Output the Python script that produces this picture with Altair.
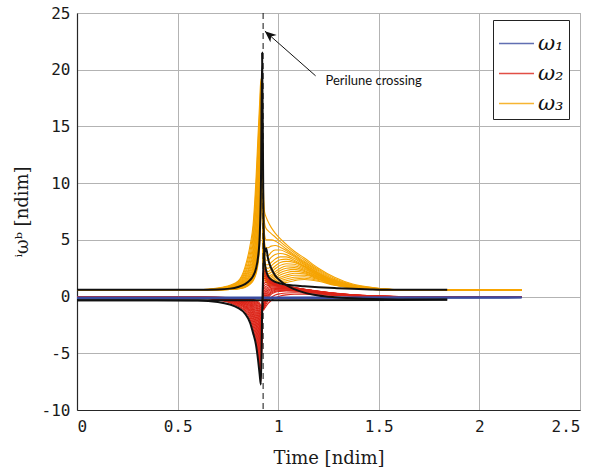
import altair as alt
import pandas as pd

# ---------------- data ----------------
T = [0.0, 0.4, 0.6, 0.7, 0.76, 0.8, 0.835, 0.86, 0.875, 0.89, 0.9, 0.908, 0.914, 0.92,
     0.926, 0.932, 0.94, 0.95, 0.965, 0.985, 1.01, 1.04, 1.08, 1.13, 1.2, 1.28, 1.37,
     1.47, 1.6, 1.84, 2.21]

# nominal (black) curves
B3 = [0.6, 0.6, 0.6, 0.62, 0.7, 0.85, 1.1, 1.45, 1.8, 2.5, 3.5, 5.3, 9.5, 21.5,
      8.5, 3.2, 2.3, 1.8, 1.5, 1.3, 1.15, 1.05, 0.97, 0.9, 0.82, 0.75, 0.68, 0.63, 0.6, 0.6, None]
B2 = [-0.33, -0.33, -0.35, -0.47, -0.7, -1.0, -1.5, -2.3, -3.2, -4.3, -5.6, -6.9, -7.75, -1.5,
      2.5, 3.9, 4.25, 3.3, 2.5, 1.85, 1.4, 1.0, 0.65, 0.35, 0.1, -0.05, -0.15, -0.22, -0.25, -0.25, None]
T_B1 = [0.0, 0.92, 1.84]
B1 = [-0.33, -0.33, -0.27]

# omega_1 (blue) curves
T_BLUE = [0.0, 0.92, 2.21]
BLUE = [
    [-0.06, -0.06, -0.05],
    [-0.1, -0.1, -0.08],
    [-0.14, -0.14, -0.11],
]

# omega_2 (red) curves
RED = [
    [-0.05, -0.06, -0.1, -0.3, -0.55, -0.85, -1.3, -2.0, -2.8, -4.0, -5.2, -6.5, -7.5, -2.5,
     2.5, 2.4, 2.1, 1.8, 1.5, 1.2, 1.0, 0.85, 0.7, 0.5, 0.3, 0.15, 0.05, 0.0, -0.03, -0.05, -0.05],
    [-0.05, -0.06, -0.1, -0.28, -0.5, -0.78, -1.18, -1.8, -2.55, -3.65, -4.8, -6.05, -7.05, -2.35,
     2.25, 2.2, 1.95, 1.7, 1.42, 1.18, 1.0, 0.88, 0.72, 0.55, 0.35, 0.18, 0.07, 0.01, -0.03, -0.05, -0.05],
    [-0.05, -0.06, -0.1, -0.25, -0.45, -0.7, -1.05, -1.6, -2.3, -3.3, -4.4, -5.6, -6.6, -2.2,
     2.0, 2.0, 1.8, 1.6, 1.35, 1.15, 1.0, 0.9, 0.75, 0.6, 0.4, 0.22, 0.1, 0.03, -0.02, -0.05, -0.05],
    [-0.05, -0.06, -0.1, -0.22, -0.41, -0.64, -0.96, -1.45, -2.08, -3.0, -4.0, -5.15, -6.15, -2.05,
     1.75, 1.8, 1.68, 1.5, 1.3, 1.12, 0.99, 0.9, 0.78, 0.62, 0.42, 0.25, 0.12, 0.04, -0.01, -0.05, -0.05],
    [-0.05, -0.06, -0.09, -0.2, -0.38, -0.58, -0.88, -1.3, -1.85, -2.7, -3.6, -4.7, -5.7, -1.9,
     1.5, 1.6, 1.55, 1.4, 1.25, 1.1, 0.98, 0.9, 0.8, 0.65, 0.45, 0.28, 0.14, 0.05, 0.0, -0.04, -0.05],
    [-0.05, -0.05, -0.08, -0.18, -0.34, -0.52, -0.8, -1.18, -1.68, -2.45, -3.25, -4.25, -5.25, -1.75,
     1.25, 1.4, 1.4, 1.3, 1.2, 1.08, 0.96, 0.89, 0.79, 0.65, 0.46, 0.29, 0.15, 0.05, 0.0, -0.04, -0.05],
    [-0.05, -0.05, -0.08, -0.17, -0.3, -0.47, -0.72, -1.05, -1.5, -2.2, -2.9, -3.8, -4.8, -1.6,
     1.0, 1.2, 1.25, 1.2, 1.15, 1.05, 0.95, 0.88, 0.78, 0.65, 0.48, 0.3, 0.16, 0.06, 0.0, -0.04, -0.05],
    [-0.05, -0.05, -0.07, -0.15, -0.27, -0.42, -0.65, -0.95, -1.35, -1.98, -2.6, -3.4, -4.35, -1.5,
     0.75, 0.98, 1.08, 1.1, 1.08, 1.02, 0.94, 0.86, 0.77, 0.64, 0.46, 0.29, 0.15, 0.06, 0.0, -0.04, -0.05],
    [-0.05, -0.05, -0.07, -0.14, -0.25, -0.38, -0.58, -0.85, -1.2, -1.75, -2.3, -3.0, -3.9, -1.4,
     0.5, 0.75, 0.9, 0.98, 1.0, 0.98, 0.92, 0.85, 0.76, 0.63, 0.45, 0.28, 0.15, 0.06, 0.0, -0.04, -0.05],
    [-0.05, -0.05, -0.06, -0.13, -0.22, -0.34, -0.52, -0.76, -1.08, -1.55, -2.05, -2.7, -3.5, -1.3,
     0.25, 0.52, 0.72, 0.85, 0.91, 0.92, 0.87, 0.82, 0.73, 0.6, 0.44, 0.27, 0.14, 0.05, 0.0, -0.04, -0.05],
    [-0.05, -0.05, -0.06, -0.12, -0.2, -0.3, -0.46, -0.68, -0.95, -1.35, -1.8, -2.4, -3.1, -1.2,
     0.0, 0.3, 0.55, 0.72, 0.82, 0.85, 0.82, 0.78, 0.7, 0.58, 0.42, 0.26, 0.14, 0.05, 0.0, -0.04, -0.05],
    [-0.05, -0.05, -0.06, -0.11, -0.18, -0.27, -0.41, -0.6, -0.83, -1.17, -1.58, -2.1, -2.75, -1.1,
     -0.2, 0.1, 0.38, 0.58, 0.72, 0.78, 0.77, 0.74, 0.67, 0.56, 0.4, 0.25, 0.13, 0.05, 0.0, -0.04, -0.05],
    [-0.05, -0.05, -0.06, -0.1, -0.16, -0.24, -0.36, -0.52, -0.72, -1.0, -1.35, -1.8, -2.4, -1.0,
     -0.4, -0.1, 0.2, 0.45, 0.62, 0.7, 0.72, 0.7, 0.64, 0.54, 0.38, 0.24, 0.12, 0.04, 0.0, -0.04, -0.05],
    [-0.05, -0.05, -0.05, -0.09, -0.14, -0.21, -0.31, -0.45, -0.62, -0.87, -1.17, -1.55, -2.05, -1.0,
     -0.6, -0.3, 0.03, 0.3, 0.51, 0.62, 0.66, 0.65, 0.6, 0.5, 0.36, 0.22, 0.11, 0.04, -0.01, -0.04, -0.05],
    [-0.05, -0.05, -0.05, -0.08, -0.12, -0.18, -0.27, -0.39, -0.53, -0.74, -1.0, -1.3, -1.75, -1.0,
     -0.8, -0.5, -0.15, 0.15, 0.4, 0.55, 0.6, 0.6, 0.56, 0.47, 0.34, 0.2, 0.1, 0.03, -0.01, -0.04, -0.05],
    [-0.05, -0.05, -0.05, -0.075, -0.11, -0.16, -0.23, -0.33, -0.45, -0.63, -0.85, -1.1, -1.5, -1.05,
     -0.95, -0.65, -0.3, 0.03, 0.3, 0.46, 0.53, 0.55, 0.52, 0.44, 0.32, 0.19, 0.09, 0.02, -0.01, -0.04, -0.05],
    [-0.05, -0.05, -0.05, -0.07, -0.1, -0.14, -0.2, -0.28, -0.38, -0.52, -0.7, -0.92, -1.25, -1.1,
     -1.1, -0.8, -0.45, -0.1, 0.2, 0.38, 0.46, 0.5, 0.48, 0.4, 0.3, 0.18, 0.08, 0.02, -0.01, -0.04, -0.05],
    [-0.05, -0.05, -0.05, -0.065, -0.09, -0.12, -0.17, -0.23, -0.31, -0.43, -0.57, -0.76, -1.05, -1.05,
     -1.15, -0.92, -0.65, -0.35, -0.08, 0.13, 0.25, 0.32, 0.34, 0.3, 0.22, 0.14, 0.06, 0.01, -0.02, -0.04, -0.05],
    [-0.05, -0.05, -0.05, -0.06, -0.08, -0.1, -0.14, -0.19, -0.25, -0.34, -0.45, -0.6, -0.85, -1.0,
     -1.2, -1.05, -0.85, -0.6, -0.35, -0.12, 0.05, 0.15, 0.2, 0.2, 0.15, 0.1, 0.05, 0.01, -0.02, -0.04, -0.05],
]

# omega_3 (orange) curves
ORANGE = [
    [0.55, 0.55, 0.6, 0.75, 1.0, 1.35, 2.6, 4.5, 6.3, 10.5, 14.3, 17.2, 19.2, 16.0,
     10.0, 7.5, 7.0, 6.6, 6.1, 5.6, 5.1, 4.6, 4.0, 3.4, 2.5, 1.7, 1.1, 0.8, 0.6, 0.55, 0.55],
    [0.55, 0.55, 0.59, 0.72, 0.95, 1.28, 2.35, 4.05, 5.75, 9.65, 13.4, 16.35, 18.5, 15.5,
     9.0, 6.5, 6.0, 5.8, 5.55, 5.25, 4.85, 4.4, 3.85, 3.25, 2.4, 1.6, 1.05, 0.78, 0.6, 0.55, 0.55],
    [0.55, 0.55, 0.58, 0.7, 0.9, 1.2, 2.1, 3.6, 5.2, 8.8, 12.5, 15.5, 17.8, 15.0,
     8.0, 5.5, 5.0, 5.0, 5.0, 4.9, 4.6, 4.2, 3.7, 3.1, 2.3, 1.5, 1.0, 0.75, 0.6, 0.55, 0.55],
    [0.55, 0.55, 0.575, 0.68, 0.86, 1.12, 1.92, 3.25, 4.7, 8.0, 11.5, 14.5, 16.9, 14.5,
     7.2, 4.8, 4.3, 4.3, 4.45, 4.5, 4.35, 4.05, 3.6, 3.0, 2.2, 1.45, 0.98, 0.74, 0.6, 0.55, 0.55],
    [0.55, 0.55, 0.57, 0.67, 0.82, 1.05, 1.75, 2.9, 4.2, 7.2, 10.5, 13.5, 16.0, 14.0,
     6.5, 4.2, 3.6, 3.6, 3.9, 4.1, 4.1, 3.9, 3.5, 2.9, 2.1, 1.4, 0.95, 0.72, 0.6, 0.55, 0.55],
    [0.55, 0.55, 0.565, 0.66, 0.8, 1.0, 1.62, 2.65, 3.8, 6.5, 9.55, 12.55, 15.1, 13.5,
     6.0, 3.8, 3.2, 3.2, 3.45, 3.7, 3.8, 3.7, 3.35, 2.8, 2.05, 1.35, 0.92, 0.71, 0.6, 0.55, 0.55],
    [0.55, 0.55, 0.56, 0.65, 0.77, 0.95, 1.5, 2.4, 3.4, 5.8, 8.6, 11.6, 14.2, 13.0,
     5.5, 3.4, 2.8, 2.8, 3.0, 3.3, 3.5, 3.5, 3.2, 2.7, 2.0, 1.3, 0.9, 0.7, 0.6, 0.55, 0.55],
    [0.55, 0.55, 0.56, 0.64, 0.75, 0.92, 1.4, 2.2, 3.1, 5.25, 7.8, 10.7, 13.35, 12.5,
     5.0, 3.1, 2.55, 2.5, 2.7, 3.0, 3.25, 3.3, 3.1, 2.65, 1.95, 1.28, 0.89, 0.69, 0.59, 0.55, 0.55],
    [0.55, 0.55, 0.56, 0.63, 0.73, 0.88, 1.3, 2.0, 2.8, 4.7, 7.0, 9.8, 12.5, 12.0,
     4.5, 2.8, 2.3, 2.2, 2.4, 2.7, 3.0, 3.1, 3.0, 2.6, 1.9, 1.25, 0.88, 0.68, 0.58, 0.55, 0.55],
    [0.55, 0.55, 0.555, 0.625, 0.72, 0.85, 1.22, 1.85, 2.55, 4.25, 6.35, 9.0, 11.75, 11.8,
     4.25, 2.6, 2.1, 2.0, 2.15, 2.45, 2.75, 2.9, 2.85, 2.5, 1.85, 1.22, 0.86, 0.67, 0.58, 0.55, 0.55],
    [0.55, 0.55, 0.55, 0.62, 0.7, 0.82, 1.15, 1.7, 2.3, 3.8, 5.7, 8.2, 11.0, 11.5,
     4.0, 2.4, 1.9, 1.8, 1.9, 2.2, 2.5, 2.7, 2.7, 2.4, 1.8, 1.2, 0.85, 0.66, 0.58, 0.55, 0.55],
    [0.55, 0.55, 0.55, 0.61, 0.68, 0.8, 1.1, 1.6, 2.15, 3.5, 5.25, 7.6, 10.4, 11.2,
     3.75, 2.25, 1.75, 1.65, 1.75, 2.0, 2.3, 2.5, 2.55, 2.3, 1.75, 1.18, 0.84, 0.66, 0.58, 0.55, 0.55],
    [0.55, 0.55, 0.55, 0.6, 0.67, 0.77, 1.05, 1.5, 2.0, 3.2, 4.8, 7.0, 9.8, 11.0,
     3.5, 2.1, 1.6, 1.5, 1.6, 1.8, 2.1, 2.3, 2.4, 2.2, 1.7, 1.15, 0.82, 0.65, 0.58, 0.55, 0.55],
    [0.55, 0.55, 0.55, 0.6, 0.66, 0.75, 1.0, 1.42, 1.88, 2.95, 4.4, 6.5, 9.3, 10.8,
     3.25, 2.0, 1.52, 1.4, 1.47, 1.65, 1.9, 2.1, 2.22, 2.1, 1.65, 1.12, 0.81, 0.65, 0.58, 0.55, 0.55],
    [0.55, 0.55, 0.55, 0.6, 0.65, 0.73, 0.95, 1.35, 1.75, 2.7, 4.0, 6.0, 8.8, 10.5,
     3.0, 1.9, 1.45, 1.3, 1.35, 1.5, 1.7, 1.9, 2.05, 2.0, 1.6, 1.1, 0.8, 0.64, 0.57, 0.55, 0.55],
    [0.55, 0.55, 0.55, 0.595, 0.64, 0.71, 0.91, 1.27, 1.65, 2.5, 3.7, 5.6, 8.4, 10.2,
     2.9, 1.85, 1.4, 1.25, 1.25, 1.37, 1.55, 1.72, 1.88, 1.88, 1.55, 1.08, 0.79, 0.64, 0.57, 0.55, 0.55],
    [0.55, 0.55, 0.55, 0.59, 0.63, 0.7, 0.88, 1.2, 1.55, 2.3, 3.4, 5.2, 8.0, 10.0,
     2.8, 1.8, 1.35, 1.2, 1.15, 1.25, 1.4, 1.55, 1.7, 1.75, 1.5, 1.05, 0.78, 0.63, 0.57, 0.55, 0.55],
    [0.55, 0.55, 0.55, 0.585, 0.625, 0.685, 0.84, 1.14, 1.46, 2.15, 3.15, 4.85, 7.6, 9.8,
     2.7, 1.75, 1.32, 1.15, 1.08, 1.15, 1.28, 1.4, 1.55, 1.62, 1.42, 1.02, 0.76, 0.62, 0.57, 0.55, 0.55],
    [0.55, 0.55, 0.55, 0.58, 0.62, 0.67, 0.8, 1.08, 1.38, 2.0, 2.9, 4.5, 7.2, 9.5,
     2.6, 1.7, 1.3, 1.1, 1.0, 1.05, 1.15, 1.25, 1.4, 1.5, 1.35, 1.0, 0.75, 0.62, 0.57, 0.55, 0.55],
]

LABELS = ["ω₁", "ω₂", "ω₃"]
COLORS = ["#3a4ca0", "#dc2418", "#f5a300"]

PERILUNE_T = [0.925]
ARROW_TAIL = (1.186, 19.46)
ARROW_TIP = (0.934, 23.4)
NOTE_POS = (1.235, 19.0)
NOTE_TEXT = "Perilune crossing"

X_TICKS = [0, 0.5, 1, 1.5, 2, 2.5]
Y_TICKS = [-10, -5, 0, 5, 10, 15, 20, 25]

# ---------------- tables ----------------
def family(times, curves, label, prefix):
    rows = []
    for k, vals in enumerate(curves):
        for t, v in zip(times, vals):
            if v is not None:
                rows.append({"t": t, "v": v, "comp": label, "curve": f"{prefix}{k:02d}"})
    return pd.DataFrame(rows)

df_orange = family(T, ORANGE, LABELS[2], "o")
df_red = family(T, RED, LABELS[1], "r")
df_blue = family(T_BLUE, BLUE, LABELS[0], "b")
df_black = pd.concat([
    family(T, [B3], "nom", "k3"),
    family(T, [B2], "nom", "k2"),
    family(T_B1, [B1], "nom", "k1"),
])

xscale = alt.Scale(domain=[0, 2.5], nice=False, zero=False)
yscale = alt.Scale(domain=[-10, 25], nice=False, zero=False)


def X(field="t"):
    return alt.X(field, type="quantitative", scale=xscale,
                 axis=alt.Axis(values=X_TICKS, title="Time [ndim]",
                               labelExpr="'' + datum.value",
                               titleX=251.5, titleY=48, titleBaseline="middle"))


def Y(field="v"):
    return alt.Y(field, type="quantitative", scale=yscale,
                 axis=alt.Axis(values=Y_TICKS, title="ⁱωᵇ [ndim]",
                               labelExpr="'' + datum.value",
                               titleX=-55, titleY=198.5, titleBaseline="middle"))


color = alt.Color("comp:N", scale=alt.Scale(domain=LABELS, range=COLORS),
                  legend=alt.Legend(title=None, orient="none", legendX=416, legendY=7,
                                    strokeColor="#222222", fillColor="white", padding=5,
                                    symbolType="stroke", symbolSize=1225, symbolStrokeWidth=1.3,
                                    labelFont="DejaVu Serif", labelFontStyle="italic",
                                    labelFontSize=21, labelColor="#111111", labelOffset=3,
                                    rowPadding=1, symbolOpacity=0.8))


def fam_layer(df, width):
    return alt.Chart(df).mark_line(strokeWidth=width, interpolate="monotone").encode(
        x=X(), y=Y(), color=color, detail="curve:N")


orange = fam_layer(df_orange, 1.1)
red = fam_layer(df_red, 1.1)
blue = fam_layer(df_blue, 1.6)

black = alt.Chart(df_black).mark_line(strokeWidth=2, color="#111111", interpolate="monotone").encode(
    x=X(), y=Y(), detail="curve:N")

vline = alt.Chart(pd.DataFrame({"t": PERILUNE_T})).mark_rule(
    strokeDash=[6, 4], color="#111111", strokeWidth=1).encode(x=X())

arrow_df = pd.DataFrame({"t": [ARROW_TAIL[0]], "v": [ARROW_TAIL[1]],
                         "t2": [ARROW_TIP[0]], "v2": [ARROW_TIP[1]]})
arrow = alt.Chart(arrow_df).mark_rule(color="#111111", strokeWidth=1).encode(
    x=X(), y=Y(), x2="t2", y2="v2")

head_df = pd.DataFrame({"t": [ARROW_TIP[0]], "v": [ARROW_TIP[1]]})
head = alt.Chart(head_df).mark_point(
    shape="M0,0 L-0.42,1 L0,0.72 L0.42,1 Z", filled=True, color="#111111",
    size=520, opacity=1, angle=311).encode(x=X(), y=Y())

note_df = pd.DataFrame({"t": [NOTE_POS[0]], "v": [NOTE_POS[1]], "txt": [NOTE_TEXT]})
note = alt.Chart(note_df).mark_text(
    align="left", baseline="middle", font="Lato", fontSize=13, color="#111111").encode(
    x=X(), y=Y(), text="txt:N")

chart = alt.layer(orange, red, blue, black, vline, arrow, head, note).properties(
    width=503, height=397,
    autosize=alt.AutoSizeParams(type="none"),
    padding={"left": 77, "top": 13, "right": 21, "bottom": 62},
).configure_view(
    stroke="#9a9a9a", strokeWidth=1
).configure_axis(
    grid=True, gridColor="#b3b3b3", gridWidth=1, domainColor="#262626", domainWidth=1.2,
    ticks=False, labelFont="DejaVu Sans Mono", labelFontSize=16, labelColor="#1a1a1a",
    titleFont="DejaVu Serif", titleFontSize=18, titleFontWeight="normal", titleColor="#1a1a1a"
).configure_axisX(labelPadding=8).configure_axisY(labelPadding=7)

chart.save("out.html", embed_options={"renderer": "svg", "actions": False})
